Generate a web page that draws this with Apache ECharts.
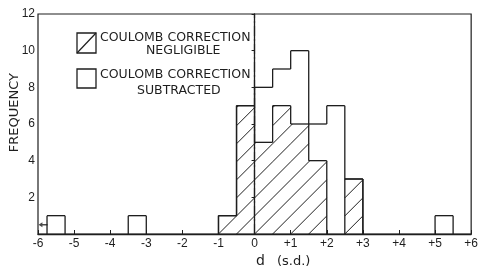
<!DOCTYPE html>
<html>
<head>
<meta charset="utf-8">
<script src="https://cdn.jsdelivr.net/npm/echarts@6/dist/echarts.min.js"></script>
<style>
  html, body { margin: 0; padding: 0; background: #fff; }
  #chart { width: 481px; height: 270px; }
</style>
</head>
<body>
<div id="chart"></div>
<script>
// histogram bins (left edge, in s.d.), each 0.5 wide
const binStart = [-5.75, -3.5, -1, -0.5, 0, 0.5, 1, 1.5, 2, 2.5, 5]
const binWidth = 0.5
// total height of each bin (coulomb correction subtracted outline)
const subtracted = [1, 1, 1, 7, 8, 9, 10, 6, 7, 3, 1]
// hatched part (coulomb correction negligible)
const negligible = [0, 0, 1, 7, 5, 7, 6, 4, 0, 3, 0]
const xTicks = [-6, -5, -4, -3, -2, -1, 0, 1, 2, 3, 4, 5, 6]
const yTicks = [0, 2, 4, 6, 8, 10, 12]
// off-scale point marked with an arrow at the left edge
const outlierMarks = [[-5.86, 0.5]]

const ink = '#1e1e1e'
const chart = echarts.init(document.getElementById('chart'))

const binData = binStart.map((s, i) => [s, subtracted[i], negligible[i]])

function adjacent(i, j) {
  if (j < 0 || j >= binStart.length) return false
  return Math.abs(Math.abs(binStart[i] - binStart[j]) - binWidth) < 1e-6
}

function seg(p, q, w) {
  return { type: 'line', shape: { x1: p[0], y1: p[1], x2: q[0], y2: q[1] }, style: { stroke: ink, lineWidth: w || 1.3 } }
}

function hatchLines(x0, x1, y0, y1, base, step) {
  // "/" lines: x + y = c in screen coords, clipped to the rect
  const out = []
  const cMin = x0 + y0, cMax = x1 + y1
  const k = Math.ceil((cMin - base) / step)
  for (let c = base + k * step; c <= cMax + 0.01; c += step) {
    const lo = Math.max(x0, c - y1)
    const hi = Math.min(x1, c - y0)
    if (hi - lo > 0.5) out.push(seg([lo, c - lo], [hi, c - hi], 1))
  }
  return out
}

// step contour of one histogram for bin i
function contour(api, i, vals) {
  const s = binStart[i]
  const h = vals[i]
  const prev = adjacent(i, i - 1) ? vals[i - 1] : 0
  const out = []
  if (h > 0) out.push(seg(api.coord([s, h]), api.coord([s + binWidth, h])))
  if (h !== prev) out.push(seg(api.coord([s, prev]), api.coord([s, h])))
  if (!adjacent(i, i + 1) && h > 0) out.push(seg(api.coord([s + binWidth, h]), api.coord([s + binWidth, 0])))
  return out
}

function renderBin(params, api) {
  const i = params.dataIndex
  const s = api.value(0)
  const hatched = api.value(2)
  const kids = []
  if (hatched > 0) {
    const pb = api.coord([s, 0])
    const ph = api.coord([s + binWidth, hatched])
    const origin = api.coord([-1, 0])
    const step = api.size([binWidth, 0])[0]
    kids.push(...hatchLines(pb[0], ph[0], ph[1], pb[1], origin[0] + origin[1], step))
  }
  kids.push(...contour(api, i, negligible))
  kids.push(...contour(api, i, subtracted))
  return { type: 'group', children: kids }
}

const option = {
  backgroundColor: '#fff',
  animation: false,
  grid: { left: 38, right: 3, top: 14, bottom: 36, show: true, borderColor: ink, borderWidth: 1.2, backgroundColor: 'transparent' },
  xAxis: {
    type: 'value',
    min: xTicks[0],
    max: xTicks[xTicks.length - 1],
    interval: 1,
    splitLine: { show: false },
    axisLine: { lineStyle: { color: ink, width: 1.3 } },
    axisTick: { inside: true, length: 4, lineStyle: { color: ink } },
    axisLabel: {
      color: ink, fontFamily: 'Liberation Sans', fontSize: 12, margin: 4,
      formatter: v => (v > 0 ? '+' + v : String(v))
    }
  },
  yAxis: {
    type: 'value',
    min: yTicks[0],
    max: yTicks[yTicks.length - 1],
    interval: 2,
    splitLine: { show: false },
    axisLine: { lineStyle: { color: ink, width: 1.3 } },
    axisTick: { length: 3, lineStyle: { color: ink } },
    axisLabel: {
      color: ink, fontFamily: 'Liberation Sans', fontSize: 12, margin: 3,
      formatter: v => (v === 0 ? '' : String(v))
    }
  },
  graphic: [
    { type: 'text', left: 8, top: 73, rotation: Math.PI / 2, style: { text: 'FREQUENCY', fill: ink, font: '13px "DejaVu Sans"' } },
    { type: 'text', x: 256, y: 254, style: { text: 'd', fill: ink, font: '14px "DejaVu Sans"' } },
    { type: 'text', x: 277, y: 255, style: { text: '(s.d.)', fill: ink, font: '13px "DejaVu Sans"' } },
    // legend
    { type: 'rect', shape: { x: 77, y: 33, width: 19, height: 20 }, style: { fill: 'none', stroke: ink, lineWidth: 1.3 } },
    { type: 'line', shape: { x1: 77, y1: 53, x2: 96, y2: 33 }, style: { stroke: ink, lineWidth: 1.2 } },
    { type: 'text', x: 100, y: 31, style: { text: 'COULOMB CORRECTION', fill: ink, font: '12.5px "DejaVu Sans"' } },
    { type: 'text', x: 146, y: 44, style: { text: 'NEGLIGIBLE', fill: ink, font: '12.5px "DejaVu Sans"' } },
    { type: 'rect', shape: { x: 77, y: 69, width: 19, height: 19 }, style: { fill: 'none', stroke: ink, lineWidth: 1.3 } },
    { type: 'text', x: 100, y: 68, style: { text: 'COULOMB CORRECTION', fill: ink, font: '12.5px "DejaVu Sans"' } },
    { type: 'text', x: 137, y: 84, style: { text: 'SUBTRACTED', fill: ink, font: '12.5px "DejaVu Sans"' } }
  ],
  series: [
    {
      type: 'custom',
      renderItem: renderBin,
      data: binData,
      encode: { x: 0, y: 1 },
      markLine: {
        silent: true,
        symbol: 'none',
        label: { show: false },
        lineStyle: { color: ink, width: 1.2, type: [10, 3, 2, 3] },
        data: [{ xAxis: 0 }]
      }
    },
    {
      type: 'scatter',
      data: outlierMarks,
      symbol: 'path://M0,5 L6,0 L6,3.5 L14,3.5 L14,6.5 L6,6.5 L6,10 Z',
      symbolSize: [9, 5],
      itemStyle: { color: ink }
    }
  ]
}

chart.setOption(option)
</script>
</body>
</html>
